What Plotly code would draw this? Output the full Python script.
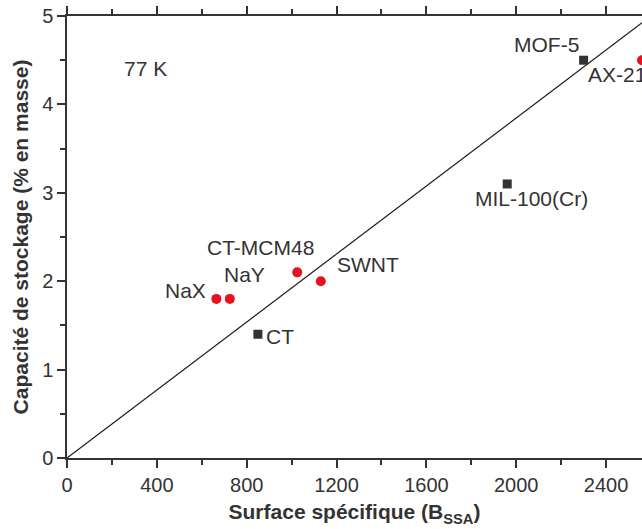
import plotly.graph_objects as go

# Materials measured at 77 K: surface (B_SSA) vs storage capacity (% mass)
circle_names = ["NaX", "NaY", "CT-MCM48", "SWNT", "AX-21"]
circle_x = [665, 725, 1025, 1130, 2560]
circle_y = [1.8, 1.8, 2.1, 2.0, 4.5]

square_names = ["CT", "MIL-100(Cr)", "MOF-5"]
square_x = [850, 1960, 2300]
square_y = [1.4, 3.1, 4.5]

# trend line through origin
line_x = [0, 2600]
line_y = [0, 5]

temp_label = "77 K"
temp_x = 350
temp_y = 4.41

x_ticks = [0, 400, 800, 1200, 1600, 2000, 2400]
y_ticks = [0, 1, 2, 3, 4, 5]

dark = "#333333"
red = "#e8121e"

# label placement relative to each point: (xanchor, xshift, yshift)
label_pos = {
    "NaX": ("right", -8, 8),
    "NaY": ("center", 15, 24),
    "CT-MCM48": ("center", -37, 25),
    "SWNT": ("left", 14, 17),
    "AX-21": ("left", -56, -14),
    "CT": ("left", 6, -2),
    "MIL-100(Cr)": ("center", 24, -15),
    "MOF-5": ("right", -3, 16),
}

fig = go.Figure()

fig.add_trace(go.Scatter(
    x=line_x, y=line_y, mode="lines",
    line=dict(color="#1a1a1a", width=1.2),
    hoverinfo="skip",
))
fig.add_trace(go.Scatter(
    x=square_x, y=square_y, mode="markers",
    marker=dict(symbol="square", size=9, color=dark),
    text=square_names,
))
fig.add_trace(go.Scatter(
    x=circle_x, y=circle_y, mode="markers",
    marker=dict(symbol="circle", size=10, color=red),
    text=circle_names,
))

label_font = dict(size=21, color=dark, family="Liberation Sans, Arial")

for names, xs, ys in [(circle_names, circle_x, circle_y), (square_names, square_x, square_y)]:
    for name, x, y in zip(names, xs, ys):
        anchor, dx, dy = label_pos[name]
        fig.add_annotation(
            x=x, y=y, text=name, showarrow=False,
            xanchor=anchor, yanchor="middle", xshift=dx, yshift=dy,
            font=label_font,
        )

fig.add_annotation(
    x=temp_x, y=temp_y, text=temp_label, showarrow=False,
    font=label_font,
)

tick_font = dict(size=20, color=dark, family="Liberation Sans Narrow, Liberation Sans, Arial")

fig.update_xaxes(
    range=[0, 2560], tickvals=x_ticks, ticks="outside", ticklen=8, tickwidth=1.5,
    tickcolor=dark, showline=True, linecolor=dark, linewidth=1.5,
    mirror="ticks", showgrid=False, zeroline=False, tickfont=tick_font,
    minor=dict(dtick=200, ticks="outside", ticklen=5, tickwidth=1.5, tickcolor=dark, showgrid=False),
    title=dict(text="Surface spécifique (B<sub>SSA</sub>)", standoff=10,
               font=dict(size=21, color=dark, family="Liberation Sans, Arial", weight="bold")),
)
fig.update_yaxes(
    range=[0, 5], tickvals=y_ticks, ticks="outside", ticklen=8, tickwidth=1.5,
    tickcolor=dark, showline=True, linecolor=dark, linewidth=1.5,
    showgrid=False, zeroline=False, tickfont=tick_font,
    minor=dict(dtick=0.5, ticks="outside", ticklen=5, tickwidth=1.5, tickcolor=dark, showgrid=False),
    title=dict(text="Capacité de stockage (% en masse)", standoff=8,
               font=dict(size=21, color=dark, family="Liberation Sans, Arial", weight="bold")),
)

fig.update_layout(
    width=642, height=529,
    margin=dict(l=67, r=0, t=16, b=71),
    plot_bgcolor="white", paper_bgcolor="white",
    showlegend=False,
)

# drop the page's default body margin so the figure fills the window exactly
fig.write_html(
    "out.html",
    config={"displayModeBar": False},
    post_script="document.body.style.margin='0';document.body.style.overflow='hidden';",
)
